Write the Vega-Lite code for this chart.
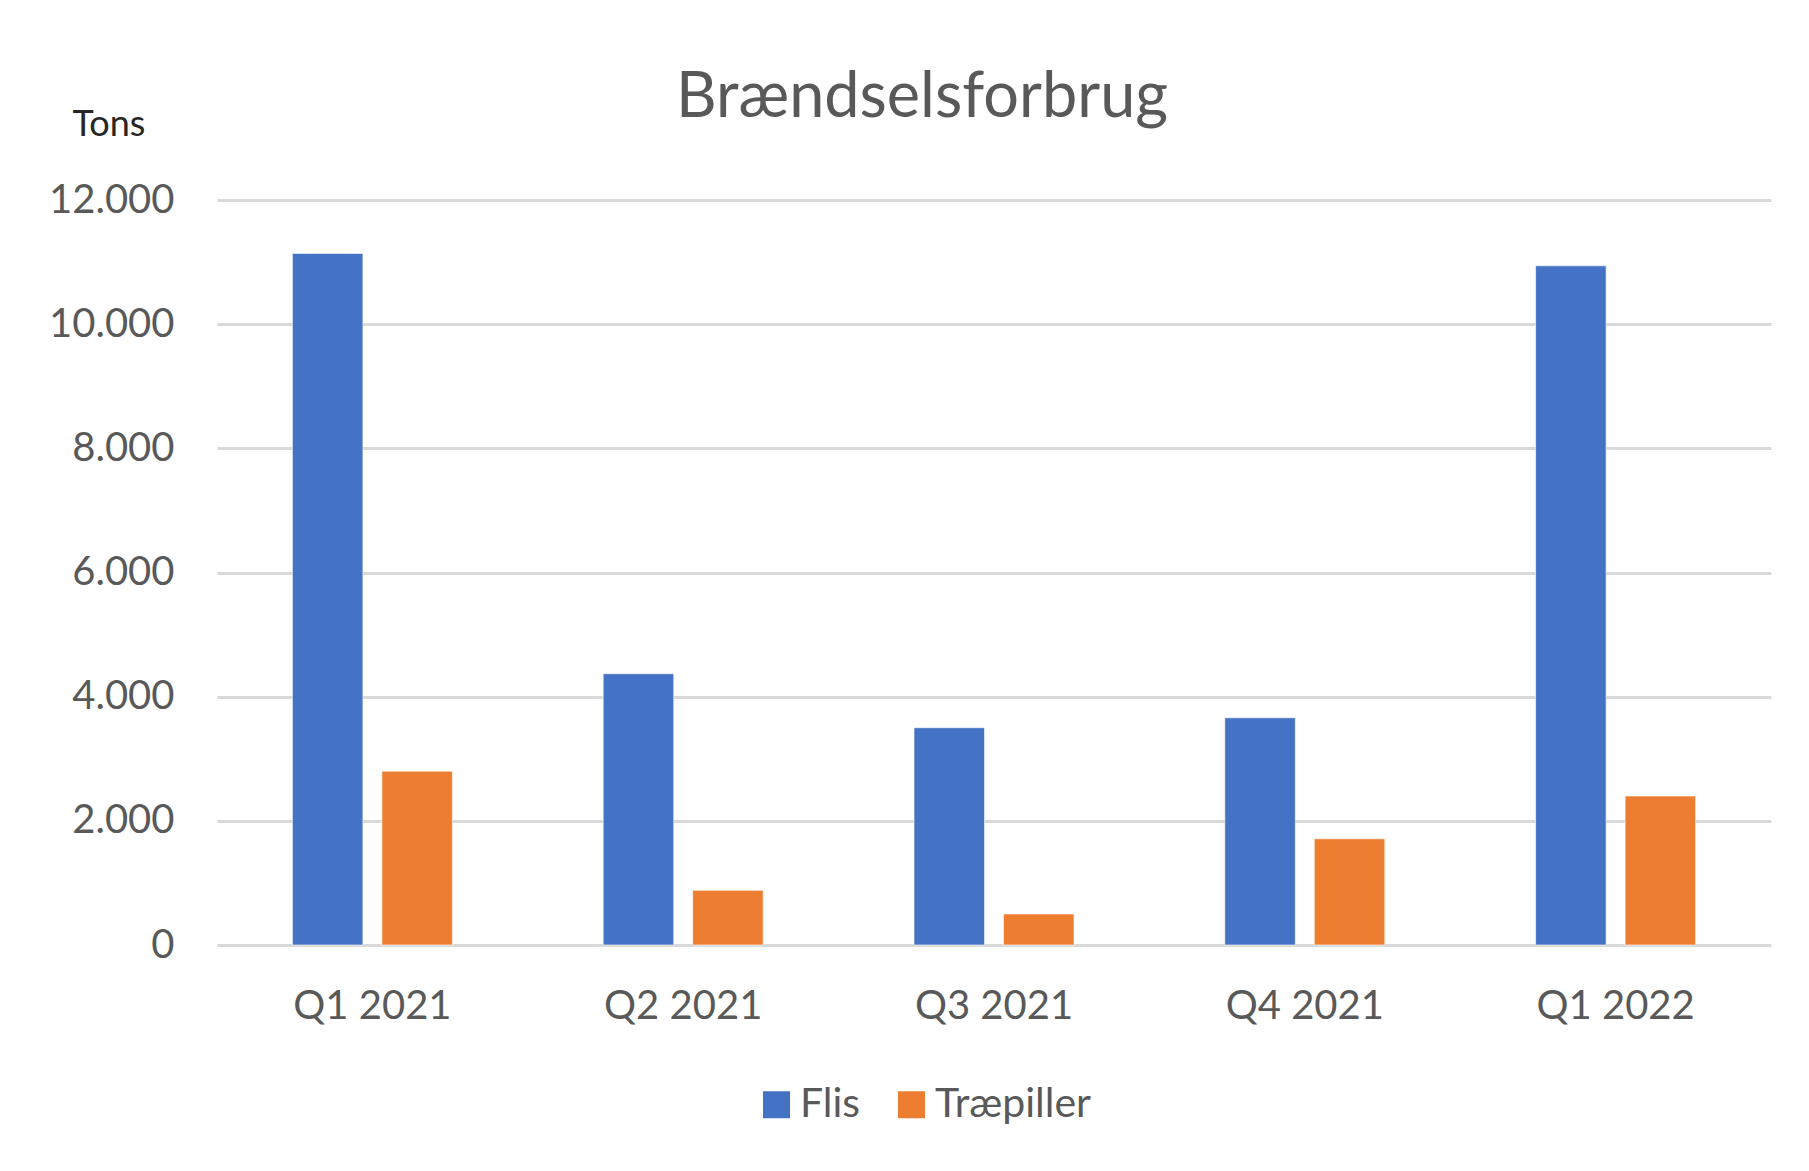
{
  "$schema": "https://vega.github.io/schema/vega-lite/v6.json",
  "width": 1554,
  "height": 745,
  "autosize": {"type": "none"},
  "padding": {"left": 217, "top": 200, "right": 38, "bottom": 226},
  "background": "white",
  "title": {
    "text": "Brændselsforbrug",
    "font": "Lato",
    "fontSize": 63,
    "fontWeight": "normal",
    "color": "#595959",
    "anchor": "middle",
    "frame": "group",
    "dx": -72,
    "dy": 94,
    "baseline": "alphabetic",
    "offset": 20
  },
  "data": {
    "values": [
      {"kvartal": "Q1 2021", "brændsel": "Flis", "tons": 11140},
      {"kvartal": "Q1 2021", "brændsel": "Træpiller", "tons": 2800},
      {"kvartal": "Q2 2021", "brændsel": "Flis", "tons": 4370},
      {"kvartal": "Q2 2021", "brændsel": "Træpiller", "tons": 880},
      {"kvartal": "Q3 2021", "brændsel": "Flis", "tons": 3500},
      {"kvartal": "Q3 2021", "brændsel": "Træpiller", "tons": 500},
      {"kvartal": "Q4 2021", "brændsel": "Flis", "tons": 3660},
      {"kvartal": "Q4 2021", "brændsel": "Træpiller", "tons": 1710},
      {"kvartal": "Q1 2022", "brændsel": "Flis", "tons": 10940},
      {"kvartal": "Q1 2022", "brændsel": "Træpiller", "tons": 2400}
    ]
  },
  "mark": {"type": "bar", "stroke": "white", "strokeWidth": 1, "strokeOpacity": 0.6},
  "encoding": {
    "x": {
      "field": "kvartal",
      "type": "nominal",
      "sort": ["Q1 2021", "Q2 2021", "Q3 2021", "Q4 2021", "Q1 2022"],
      "scale": {"paddingInner": 0.4852, "paddingOuter": 0.2426},
      "axis": {
        "title": null,
        "labelAngle": 0,
        "domain": false,
        "ticks": false,
        "tickSize": 0,
        "labelFont": "Lato",
        "labelFontSize": 40,
        "labelColor": "#595959",
        "labelBaseline": "alphabetic",
        "labelPadding": 73
      }
    },
    "xOffset": {
      "field": "brændsel",
      "type": "nominal",
      "scale": {"paddingInner": 0.212, "paddingOuter": 0}
    },
    "y": {
      "field": "tons",
      "type": "quantitative",
      "scale": {"domain": [0, 12000], "nice": false},
      "axis": {
        "values": [0, 2000, 4000, 6000, 8000, 10000, 12000],
        "labelExpr": "replace(format(datum.value, ','), ',', '.')",
        "domain": false,
        "ticks": false,
        "tickSize": 0,
        "labelFont": "Lato",
        "labelFontSize": 40,
        "labelColor": "#595959",
        "labelPadding": 43,
        "grid": true,
        "gridColor": "#d9d9d9",
        "gridWidth": 3,
        "title": "Tons",
        "titleAngle": 0,
        "titleFont": "Lato",
        "titleFontSize": 36,
        "titleFontWeight": "normal",
        "titleColor": "#262626",
        "titleAlign": "left",
        "titleBaseline": "alphabetic",
        "titleX": -145,
        "titleY": -65
      }
    },
    "color": {
      "field": "brændsel",
      "type": "nominal",
      "scale": {"domain": ["Flis", "Træpiller"], "range": ["#4472C4", "#ED7D31"]},
      "legend": {
        "title": null,
        "orient": "none",
        "direction": "horizontal",
        "legendX": 539,
        "legendY": 884,
        "padding": 0,
        "symbolType": "square",
        "symbolSize": 729,
        "symbolStrokeWidth": 0,
        "labelFont": "Lato",
        "labelFontSize": 41,
        "labelColor": "#595959",
        "labelOffset": 3,
        "columnPadding": 30
      }
    }
  },
  "config": {
    "view": {"stroke": null}
  }
}
